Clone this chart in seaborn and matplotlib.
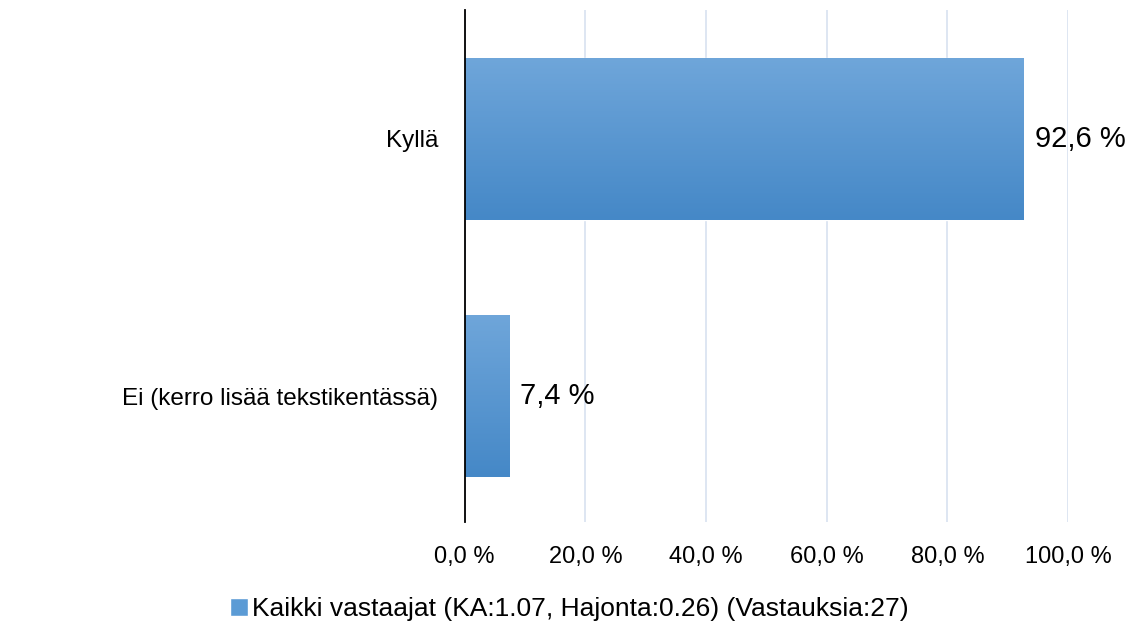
import numpy as np
import pandas as pd
import matplotlib
matplotlib.use("Agg")
import matplotlib.pyplot as plt
import matplotlib.colors as mcolors
from matplotlib.patches import Patch
import seaborn as sns

# Data (percent of respondents)
categories = ["Kyllä", "Ei (kerro lisää tekstikentässä)"]
values = [92.6, 7.4]
series_name = "Kaikki vastaajat (KA:1.07, Hajonta:0.26) (Vastauksia:27)"
xticks = [0, 20, 40, 60, 80, 100]

df = pd.DataFrame({"category": categories, "value": values})

sns.set_style("white")
plt.rcParams["font.family"] = ["Liberation Sans", "DejaVu Sans"]
plt.rcParams["text.color"] = "black"

fig = plt.figure(figsize=(11.39, 6.30), dpi=100)
ax = fig.add_axes([0.408, 0.171, 0.5297, 0.813])

sns.barplot(data=df, y="category", x="value", orient="h", color="#5b9bd5",
            width=0.63, ax=ax, zorder=3)

# vertical gradient fill for bars
grad = mcolors.LinearSegmentedColormap.from_list("g", ["#6fa6da", "#4588c7"])
for p in ax.patches:
    x0, y0 = p.get_x(), p.get_y()
    w, h = p.get_width(), p.get_height()
    img = ax.imshow(np.linspace(0, 1, 256).reshape(-1, 1), cmap=grad, aspect="auto",
                    extent=[x0, x0 + w, y0 + h, y0], origin="upper", zorder=4)
    img.set_clip_path(p)

ax.set_xlim(0, 100)
ax.set_ylim(1.49, -0.5)
ax.set_xticks(xticks)
ax.set_xticklabels([f"{t:.1f}".replace(".", ",") + " %" for t in xticks])
ax.set_xlabel("")
ax.set_ylabel("")
ax.grid(axis="x", color="#dbe4f1", linewidth=1.3, zorder=0)
ax.set_axisbelow(True)
for s in ["top", "right", "bottom"]:
    ax.spines[s].set_visible(False)
ax.spines["left"].set_color("black")
ax.spines["left"].set_linewidth(1.3)
ax.spines["left"].set_zorder(6)
ax.tick_params(axis="x", length=0, pad=17, labelsize=17, colors="black")
ax.tick_params(axis="y", length=0, pad=19, labelsize=17.5, colors="black")

labels = [f"{v:.1f}".replace(".", ",") + " %" for v in values]
ax.bar_label(ax.containers[0], labels=labels, padding=8, fontsize=21, color="black", zorder=7)

fig.legend(handles=[Patch(facecolor="#5b9bd5", label=series_name)],
           loc="center", bbox_to_anchor=(0.5, 0.033), frameon=False,
           fontsize=19, labelcolor="black",
           handlelength=0.7, handleheight=0.7, handletextpad=0.15)

fig.savefig("out.png", dpi=100)
